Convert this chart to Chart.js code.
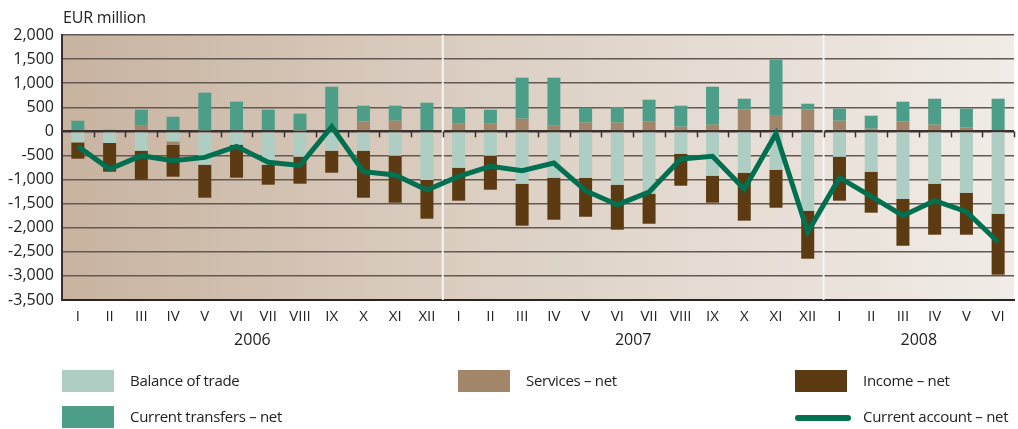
<!DOCTYPE html>
<html>
<head>
<meta charset="utf-8">
<script src="https://cdn.jsdelivr.net/npm/chart.js@4/dist/chart.umd.min.js"></script>
<style>
  html, body { margin: 0; padding: 0; background: #fff; }
  #wrap { position: relative; width: 1018px; height: 429px; font-family: 'Open Sans', 'DejaVu Sans', sans-serif; color: #222; }
  #unit { position: absolute; left: 63px; top: 6px; font-size: 16px; letter-spacing: -0.2px; }
  .lg { position: absolute; font-size: 15px; line-height: 22px; letter-spacing: -0.3px; }
  .lg .box { position: absolute; left: 0; top: 0; width: 52px; height: 22px; }
  .lg .ln { position: absolute; left: 0; top: 9px; width: 56px; height: 6px; border-radius: 3px; }
  .lg span { position: absolute; left: 68px; top: -1px; white-space: nowrap; }
</style>
</head>
<body>
<div id="wrap">
  <canvas id="bopChart" width="1018" height="429"></canvas>
  <div id="unit">EUR million</div>
  <div class="lg" style="left:62px;top:370px"><div class="box" style="background:#aecdc3"></div><span>Balance of trade</span></div>
  <div class="lg" style="left:458px;top:370px"><div class="box" style="background:#a3856a"></div><span>Services – net</span></div>
  <div class="lg" style="left:795px;top:370px"><div class="box" style="background:#5c3a12"></div><span>Income – net</span></div>
  <div class="lg" style="left:62px;top:406px"><div class="box" style="background:#4c9e89"></div><span>Current transfers – net</span></div>
  <div class="lg" style="left:795px;top:406px"><div class="ln" style="background:#007050"></div><span>Current account – net</span></div>
</div>
<script>
document.addEventListener('DOMContentLoaded', function () {
    const ctx = document.getElementById('bopChart').getContext('2d');

    const months = ["I", "II", "III", "IV", "V", "VI", "VII", "VIII", "IX", "X", "XI", "XII",
                    "I", "II", "III", "IV", "V", "VI", "VII", "VIII", "IX", "X", "XI", "XII",
                    "I", "II", "III", "IV", "V", "VI"];
    const years = ["2006", "2007", "2008"];
    const yearStart = [0, 12, 24];
    const yearEnd = [11, 23, 29];

    const balance_of_trade = [-228, -242, -401, -208, -692, -277, -692, -526, -401, -401, -505, -1010,
                              -754, -505, -1086, -962, -962, -1107, -1294, -464, -920, -858, -796, -1647,
                              -526, -837, -1398, -1086, -1273, -1709];
    const services = [0, 0, 118, -69, 20, 0, 0, 14, 0, 208, 221, 0,
                      159, 159, 263, 118, 180, 180, 201, 97, 138, 450, 339, 450,
                      221, 55, 201, 138, 76, 0];
    const income = [-339, -595, -602, -664, -685, -685, -415, -560, -457, -976, -976, -803,
                    -685, -706, -872, -872, -810, -934, -623, -664, -560, -996, -789, -996,
                    -913, -851, -976, -1059, -872, -1266];
    const current_transfers = [221, 35, 332, 304, 783, 616, 450, 353, 927, 325, 312, 595,
                               346, 291, 851, 996, 311, 325, 456, 436, 789, 228, 1149, 124,
                               250, 270, 415, 540, 395, 678];
    const current_account = [-311, -782, -505, -609, -540, -311, -643, -706, 97, -837, -906, -1218,
                             -934, -727, -817, -657, -1232, -1522, -1259, -574, -519, -1197, -48, -2090,
                             -962, -1349, -1751, -1439, -1668, -2297];

    const fontFamily = "'Open Sans', 'DejaVu Sans', sans-serif";

    const backdrop = {
        id: 'backdrop',
        beforeDraw(chart) {
            const a = chart.chartArea;
            const c = chart.ctx;
            const g = c.createLinearGradient(a.left, 0, a.right, 0);
            g.addColorStop(0, '#c8b3a0');
            g.addColorStop(0.4, '#dacdc0');
            g.addColorStop(1, '#f1ece7');
            c.save();
            c.fillStyle = g;
            c.fillRect(a.left, a.top, a.right - a.left, a.bottom - a.top);
            c.restore();
        },
        beforeDatasetsDraw(chart) {
            const a = chart.chartArea;
            const c = chart.ctx;
            const x = chart.scales.x;
            const y = chart.scales.y;
            const step = (x.getPixelForValue(1) - x.getPixelForValue(0));
            c.save();
            // white separators between years
            c.strokeStyle = '#f7f4f1';
            c.lineWidth = 2;
            [12, 24].forEach(function (i) {
                const px = x.getPixelForValue(i) - step / 2;
                c.beginPath();
                c.moveTo(px, a.top);
                c.lineTo(px, a.bottom);
                c.stroke();
            });
            // small ticks below the zero line
            const y0 = y.getPixelForValue(0);
            c.strokeStyle = '#3a3030';
            c.lineWidth = 1.5;
            for (let i = 1; i <= months.length; i++) {
                const px = Math.round(x.getPixelForValue(i) - step / 2) + 0.5;
                c.beginPath();
                c.moveTo(px, y0);
                c.lineTo(px, y0 + 6);
                c.stroke();
            }
            c.restore();
        },
        afterDraw(chart) {
            const c = chart.ctx;
            const x = chart.scales.x;
            c.save();
            c.fillStyle = '#222';
            c.font = '16px ' + fontFamily;
            c.textAlign = 'center';
            c.textBaseline = 'middle';
            years.forEach(function (yr, k) {
                const px = (x.getPixelForValue(yearStart[k]) + x.getPixelForValue(yearEnd[k])) / 2;
                c.fillText(yr, px, 340);
            });
            c.restore();
        }
    };

    new Chart(ctx, {
        type: 'bar',
        data: {
            labels: months,
            datasets: [
                {
                    type: 'line',
                    label: 'Current account – net',
                    data: current_account,
                    borderColor: '#007050',
                    borderWidth: 5,
                    pointRadius: 0,
                    tension: 0,
                    fill: false,
                    order: 0
                },
                {
                    label: 'Balance of trade',
                    data: balance_of_trade,
                    backgroundColor: '#aecdc3',
                    stack: 's',
                    order: 1
                },
                {
                    label: 'Services – net',
                    data: services,
                    backgroundColor: '#a3856a',
                    stack: 's',
                    order: 1
                },
                {
                    label: 'Income – net',
                    data: income,
                    backgroundColor: '#5c3a12',
                    stack: 's',
                    order: 1
                },
                {
                    label: 'Current transfers – net',
                    data: current_transfers,
                    backgroundColor: '#4c9e89',
                    stack: 's',
                    order: 1
                }
            ]
        },
        options: {
            responsive: false,
            animation: false,
            layout: { padding: { top: 35, right: 4, left: 0, bottom: 0 } },
            datasets: {
                bar: { barPercentage: 0.82, categoryPercentage: 0.5 }
            },
            plugins: {
                legend: { display: false },
                tooltip: { enabled: false }
            },
            scales: {
                x: {
                    stacked: true,
                    grid: { display: false, drawTicks: false },
                    border: { display: true, color: '#2b2424', width: 2 },
                    ticks: {
                        color: '#222',
                        font: { family: fontFamily, size: 15 },
                        padding: 8,
                        maxRotation: 0,
                        autoSkip: false
                    },
                    afterFit(scale) { scale.height = 129; }
                },
                y: {
                    stacked: true,
                    min: -3500,
                    max: 2000,
                    grid: {
                        color: function (c) { return c.tick.value === 0 ? '#3a3030' : '#625854'; },
                        lineWidth: function (c) { return c.tick.value === 0 ? 2.5 : 1.5; },
                        drawTicks: false
                    },
                    border: { display: true, color: '#3a3030', width: 2 },
                    ticks: {
                        stepSize: 500,
                        color: '#222',
                        padding: 8,
                        font: { family: fontFamily, size: 16 },
                        callback: function (v) { return v.toLocaleString('en-US'); }
                    },
                    afterFit(scale) { scale.width = 62; }
                }
            }
        },
        plugins: [backdrop]
    });
});
</script>
</body>
</html>
